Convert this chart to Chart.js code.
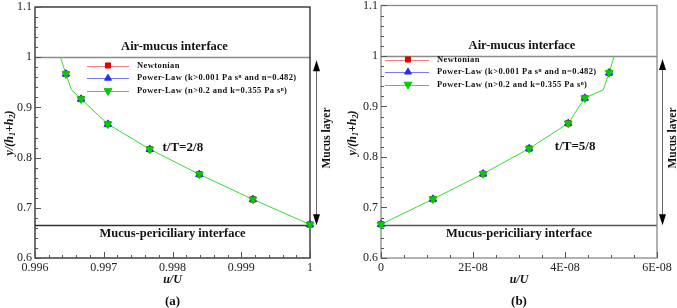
<!DOCTYPE html>
<html>
<head>
<meta charset="utf-8">
<script src="https://cdn.jsdelivr.net/npm/chart.js@4/dist/chart.umd.min.js"></script>
<style>
body { margin: 0; background: #fff; width: 677px; height: 308px; position: relative; overflow: hidden; }
.panel { position: absolute; top: 0; height: 308px; }
#wrapA { left: 0; width: 340px; }
#wrapB { left: 340px; width: 337px; }
</style>
</head>
<body>
<div class="panel" id="wrapA"><canvas id="chartA" width="340" height="308"></canvas></div>
<div class="panel" id="wrapB"><canvas id="chartB" width="337" height="308"></canvas></div>
<script>
/* datos */
const seriesNames = ["Newtonian", "Power-Law (k>0.001 Pa s\u207F and n=0.482)", "Power-Law (n>0.2 and k=0.355 Pa s\u207F)"]
const markerY = [0.9667, 0.9167, 0.8667, 0.8167, 0.7667, 0.7167, 0.6667]

const uA = [0.99645, 0.99667, 0.99706, 0.99767, 0.99839, 0.99917, 1.0]
const curveYA = [1.0, 0.9667, 0.935, 0.9167, 0.8667, 0.8167, 0.7667, 0.7167, 0.6667]
const curveUA = [0.99637, 0.99645, 0.99653, 0.99667, 0.99706, 0.99767, 0.99839, 0.99917, 1.0]

const uB = [4.96e-8, 4.43e-8, 4.07e-8, 3.22e-8, 2.22e-8, 1.13e-8, 0]
const curveYB = [1.0, 0.9667, 0.933, 0.9167, 0.8667, 0.8167, 0.7667, 0.7167, 0.6667]
const curveUB = [5.07e-8, 4.96e-8, 4.83e-8, 4.43e-8, 4.07e-8, 3.22e-8, 2.22e-8, 1.13e-8, 0]

const yTicks = [0.6, 0.7, 0.8, 0.9, 1, 1.1]
const yTickLabels = ["0.6", "0.7", "0.8", "0.9", "1", "1.1"]
const xTicksA = [0.996, 0.997, 0.998, 0.999, 1]
const xTickLabelsA = ["0.996", "0.997", "0.998", "0.999", "1"]
const xTicksB = [0, 2e-8, 4e-8, 6e-8]
const xTickLabelsB = ["0", "2E-08", "4E-08", "6E-08"]

const airLevel = 1
const pclLevel = 0.665

const serif = "'Liberation Serif', 'Times New Roman', serif"
const colors = {
    red: "#e00000", redLine: "#f28080",
    blue: "#2a2aff", blueLine: "#7878ff",
    green: "#00cc00", greenLine: "#33dd33"
}

const toPts = (xs, ys) => xs.map((x, i) => ({ x: x, y: ys[i] }))

/* dibuja cosas propias de la figura */
const decor = {
    id: "decor",
    beforeDatasetsDraw(chart, args, o) {
        const ctx = chart.ctx, a = chart.chartArea
        const xs = chart.scales.x, ys = chart.scales.y
        ctx.save()
        // lineas de interfaz
        ctx.lineWidth = 1.3
        ctx.strokeStyle = "#8a8a8a"
        let y1 = Math.round(ys.getPixelForValue(airLevel)) + 0.5
        ctx.beginPath(); ctx.moveTo(a.left, y1); ctx.lineTo(a.right, y1); ctx.stroke()
        ctx.strokeStyle = o.pclColor
        let y2 = Math.round(ys.getPixelForValue(pclLevel)) + 0.5
        ctx.beginPath(); ctx.moveTo(a.left, y2); ctx.lineTo(a.right, y2); ctx.stroke()
        // marco
        ctx.strokeStyle = o.frame
        ctx.lineWidth = 1.3
        ctx.strokeRect(a.left, a.top, a.right - a.left, a.bottom - a.top)
        // ticks hacia adentro
        ctx.lineWidth = 1
        ctx.strokeStyle = "#555"
        ctx.beginPath()
        for (let v = ys.min; v <= ys.max + 1e-9; v += 0.02) {
            const p = Math.round(ys.getPixelForValue(v)) + 0.5
            const major = Math.abs(v * 10 - Math.round(v * 10)) < 1e-6
            ctx.moveTo(a.left, p); ctx.lineTo(a.left + (major ? 6 : 3), p)
        }
        const step = o.minorX, n = Math.round((xs.max - xs.min) / step)
        for (let i = 0; i <= n; i++) {
            const v = xs.min + i * step
            const p = Math.round(xs.getPixelForValue(v)) + 0.5
            const major = i % o.minorPer === 0
            ctx.moveTo(p, a.bottom); ctx.lineTo(p, a.bottom - (major ? 6 : 3))
        }
        ctx.stroke()
        ctx.restore()
    },
    afterDraw(chart, args, o) {
        const ctx = chart.ctx, a = chart.chartArea
        const xs = chart.scales.x, ys = chart.scales.y
        const midX = (a.left + a.right) / 2
        ctx.save()
        ctx.fillStyle = "#111"
        ctx.textAlign = "center"
        ctx.textBaseline = "middle"
        ctx.font = "bold 12.5px " + serif
        ctx.fillText("Air-mucus interface", midX + o.airDx, ys.getPixelForValue(1.02))
        ctx.fillText("Mucus-periciliary interface", midX, ys.getPixelForValue(0.648))
        ctx.font = "bold 13px " + serif
        ctx.fillText(o.time, xs.getPixelForValue(o.timeX), ys.getPixelForValue(0.82))
        ctx.font = "italic bold 12px " + serif
        ctx.fillText("u/U", midX, a.bottom + 22)
        ctx.font = "bold 13px " + serif
        ctx.fillText(o.tag, midX, a.bottom + 44)

        // titulo eje y con subindices
        const parts = [["y/(h", 0], ["1", 1], ["+h", 0], ["2", 1], [")", 0]]
        const big = "italic bold 12px " + serif, small = "italic bold 8px " + serif
        let w = 0
        parts.forEach(p => { ctx.font = p[1] ? small : big; w += ctx.measureText(p[0]).width })
        ctx.translate(o.yTitleX, 133)
        ctx.rotate(-Math.PI / 2)
        ctx.textAlign = "left"
        let x = -w / 2
        parts.forEach(p => {
            ctx.font = p[1] ? small : big
            ctx.fillText(p[0], x, p[1] ? 3 : 0)
            x += ctx.measureText(p[0]).width
        })
        ctx.setTransform(1, 0, 0, 1, 0, 0)

        // flecha doble de la capa de moco
        const ax = a.right + o.arrowDx + 0.5
        const top = ys.getPixelForValue(airLevel) + 3, bot = ys.getPixelForValue(pclLevel)
        ctx.strokeStyle = "#666"; ctx.lineWidth = 1
        ctx.beginPath(); ctx.moveTo(ax, top + 8); ctx.lineTo(ax, bot - 8); ctx.stroke()
        ctx.fillStyle = "#000"
        ctx.beginPath(); ctx.moveTo(ax, top); ctx.lineTo(ax - 3.5, top + 11); ctx.lineTo(ax + 3.5, top + 11); ctx.closePath(); ctx.fill()
        ctx.beginPath(); ctx.moveTo(ax, bot); ctx.lineTo(ax - 3.5, bot - 11); ctx.lineTo(ax + 3.5, bot - 11); ctx.closePath(); ctx.fill()
        ctx.save()
        ctx.translate(a.right + o.arrowDx + 11, 138)
        ctx.rotate(-Math.PI / 2)
        ctx.textAlign = "center"
        ctx.fillStyle = "#111"
        ctx.font = "bold 11.5px " + serif
        ctx.fillText("Mucus layer", 0, 0)
        ctx.restore()

        // leyenda
        const L = o.legend
        const styles = [
            { line: colors.redLine, fill: colors.red, pointStyle: "rect", radius: 3.6, rotation: 0 },
            { line: colors.blueLine, fill: colors.blue, pointStyle: "triangle", radius: 4, rotation: 0 },
            { line: colors.greenLine, fill: colors.green, pointStyle: "triangle", radius: 4.5, rotation: 180 }
        ]
        ctx.textAlign = "left"
        seriesNames.forEach((name, i) => {
            const yy = L.y + i * L.gap
            const s = styles[i]
            ctx.strokeStyle = s.line; ctx.lineWidth = 1
            ctx.beginPath(); ctx.moveTo(L.x0, Math.round(yy) + 0.5); ctx.lineTo(L.x1, Math.round(yy) + 0.5); ctx.stroke()
            ctx.fillStyle = s.fill; ctx.strokeStyle = s.fill
            Chart.helpers.drawPoint(ctx, { pointStyle: s.pointStyle, radius: s.radius, rotation: s.rotation, borderWidth: 1 }, L.xm, yy)
            ctx.fillStyle = "#111"
            ctx.font = "bold 8.5px " + serif
            ctx.letterSpacing = "0.4px"
            ctx.fillText(name, L.tx, yy)
            ctx.letterSpacing = "0px"
        })
        ctx.restore()
    }
}

function makePanel(id, u, curveU, curveY, xMin, xMax, xTicks, xLabels, yWidth, pad, deco) {
    const ctx = document.getElementById(id).getContext("2d")
    return new Chart(ctx, {
        type: "scatter",
        data: {
            datasets: [
                {
                    label: seriesNames[2], data: toPts(u, markerY), order: 1, clip: false,
                    pointStyle: "triangle", rotation: 180, pointRadius: 4.5,
                    backgroundColor: colors.green, borderColor: colors.green, borderWidth: 1
                },
                {
                    label: seriesNames[1], data: toPts(u, markerY), order: 2, clip: false,
                    pointStyle: "triangle", pointRadius: 4.3,
                    backgroundColor: colors.blue, borderColor: colors.blue, borderWidth: 1
                },
                {
                    label: seriesNames[0], data: toPts(u, markerY), order: 3, clip: false,
                    pointStyle: "rect", pointRadius: 3.8,
                    backgroundColor: colors.red, borderColor: colors.red, borderWidth: 1
                },
                {
                    label: "curve", data: toPts(curveU, curveY), order: 4, clip: false,
                    showLine: true, pointRadius: 0, borderColor: colors.greenLine, borderWidth: 1
                }
            ]
        },
        options: {
            responsive: false,
            animation: false,
            devicePixelRatio: 1,
            layout: { padding: pad },
            plugins: { legend: { display: false }, tooltip: { enabled: false }, decor: deco },
            scales: {
                x: {
                    type: "linear", min: xMin, max: xMax,
                    grid: { display: false, drawTicks: false, tickLength: 0 }, border: { display: false },
                    afterBuildTicks: s => { s.ticks = xTicks.map(v => ({ value: v })) },
                    afterFit: s => { s.height = 50; s.paddingLeft = 0; s.paddingRight = 0 },
                    ticks: {
                        autoSkip: false, maxRotation: 0, padding: 3, color: "#222",
                        font: { family: serif, size: 12 },
                        callback: (v, i) => xLabels[i]
                    }
                },
                y: {
                    type: "linear", min: 0.6, max: 1.1,
                    grid: { display: false, drawTicks: false, tickLength: 0 }, border: { display: false },
                    afterBuildTicks: s => { s.ticks = yTicks.map(v => ({ value: v })) },
                    afterFit: s => { s.width = yWidth; s.paddingTop = 0; s.paddingBottom = 0 },
                    ticks: {
                        autoSkip: false, padding: 3, color: "#222",
                        font: { family: serif, size: 12 },
                        callback: (v, i) => yTickLabels[i]
                    }
                }
            }
        },
        plugins: [decor]
    })
}

const chartA = makePanel("chartA", uA, curveUA, curveYA, 0.996, 1.0, xTicksA, xTickLabelsA, 35,
    { top: 7, right: 30, left: 0, bottom: 0 },
    {
        frame: "#222", pclColor: "#333", minorX: 0.0002, minorPer: 5, airDx: 2,
        time: "t/T=2/8", timeX: 0.99815, tag: "(a)", yTitleX: 10, arrowDx: 6,
        legend: { x0: 87, x1: 129, xm: 108, tx: 137, y: 65.5, gap: 12.7 }
    })

const chartB = makePanel("chartB", uB, curveUB, curveYB, 0, 6e-8, xTicksB, xTickLabelsB, 41,
    { top: 5, right: 20, left: 0, bottom: 0 },
    {
        frame: "#888", pclColor: "#555", minorX: 5e-9, minorPer: 4, airDx: 3,
        time: "t/T=5/8", timeX: 4.22e-8, tag: "(b)", yTitleX: 13, arrowDx: 5,
        legend: { x0: 45, x1: 89, xm: 68, tx: 97, y: 59.5, gap: 12.5 }
    })
</script>
</body>
</html>
